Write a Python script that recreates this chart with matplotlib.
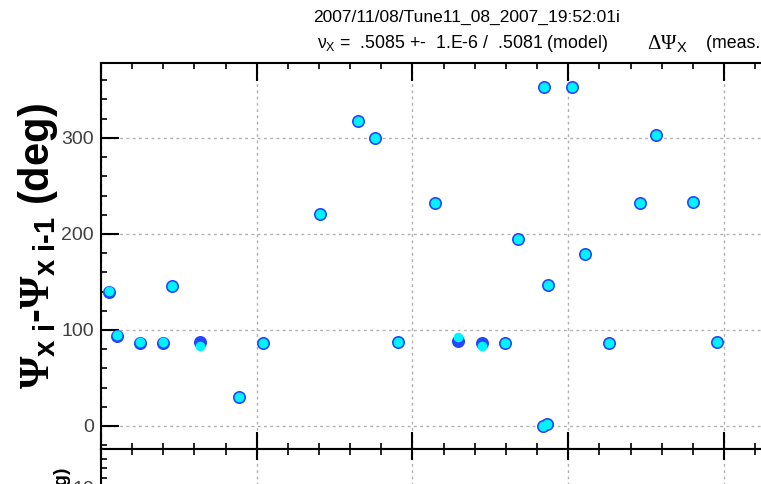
import matplotlib
matplotlib.use("Agg")
import matplotlib.pyplot as plt
from matplotlib.ticker import MultipleLocator

plt.rcParams['font.family'] = ['Liberation Sans', 'DejaVu Sans']
plt.rcParams['mathtext.fontset'] = 'custom'
plt.rcParams['mathtext.rm'] = 'Liberation Sans'
plt.rcParams['mathtext.it'] = 'Liberation Sans'
plt.rcParams['mathtext.bf'] = 'Liberation Sans:bold'
plt.rcParams['mathtext.cal'] = 'Liberation Serif'
plt.rcParams['mathtext.sf'] = 'Liberation Serif:bold'

# BPM position along the ring and phase advance between neighbouring BPMs
s_pos = [5.1, 10.0, 25.0, 40.0, 45.4, 63.6, 88.8, 104.2, 140.7, 165.3, 176.0,
         190.9, 214.2, 229.5, 244.5, 259.5, 267.6, 284.0, 284.5, 286.8, 286.4,
         302.1, 310.9, 326.1, 346.2, 356.3, 380.0, 395.4]
dphi_meas = [139.5, 93.5, 86.2, 86.2, 146.0, 87.5, 30.5, 86.8, 220.5, 317.7,
             300.3, 87.2, 232.0, 88.9, 86.8, 86.8, 194.8, 0.3, 353.4, 147.2,
             2.0, 353.4, 179.5, 86.1, 232.0, 303.0, 233.6, 87.5]
dphi_model = [140.6, 95.0, 87.3, 87.3, 146.0, 83.7, 30.5, 86.8, 220.5, 317.7,
              300.3, 87.2, 232.0, 93.0, 83.3, 86.8, 194.8, 0.3, 353.4, 147.2,
              2.0, 353.4, 179.5, 86.1, 232.0, 303.0, 233.6, 87.5]

title_line1 = "2007/11/08/Tune11_08_2007_19:52:01i"
title_line2 = r"$\nu_{\rm X}$ =  .5085 +-  1.E-6 /  .5081 (model)"
title_right_sym = r"$\mathcal{\Delta\Psi}_{\rm X}$"
title_right_txt = "(meas. - model)"
y_label = r"$\mathsf{\Psi}_{\mathbf{x\ i}}$-$\mathsf{\Psi}_{\mathbf{x\ i}\mathbf{‐1}}$ (deg)"

W, H = 761, 484
fig = plt.figure(figsize=(W / 100, H / 100), dpi=100)

# plot area runs past the right edge of the picture (cropped screenshot)
x0, x1 = 101, 833
top_y, mid_y = 63, 449
ax = fig.add_axes([x0 / W, (H - mid_y) / H, (x1 - x0) / W, (mid_y - top_y) / H])
ax2 = fig.add_axes([x0 / W, (H - mid_y - 300) / H, (x1 - x0) / W, 300 / H], sharex=ax)

grid_kw = dict(color='#b0b0b0', linestyle=(0, (2, 2.5)), linewidth=1.0)

ax.plot(s_pos, dphi_meas, 'o', color='#2446ff', ms=9.4, mew=0, zorder=3, clip_on=False)
ax.plot(s_pos, dphi_model, 'o', color='#00f4ff', ms=7.0, mew=0, zorder=4, clip_on=False)

ax.set_xlim(0, 470)
ax.set_ylim(-24, 378)
ax.xaxis.set_major_locator(MultipleLocator(100))
ax.xaxis.set_minor_locator(MultipleLocator(20))
ax.yaxis.set_major_locator(MultipleLocator(100))
ax.yaxis.set_minor_locator(MultipleLocator(20))
ax.grid(True, which='major', **grid_kw)
ax.set_axisbelow(True)
ax.tick_params(which='both', direction='in', top=True, bottom=True, right=False,
               labelbottom=False, labelsize=14, labelcolor='#404040', width=1.5)
ax.tick_params(which='major', length=12.6, pad=5)
ax.tick_params(which='minor', length=4.6, width=1.2)
ax.spines['right'].set_visible(False)
for sp in ax.spines.values():
    sp.set_linewidth(1.5)

fig.text(38 / W, (H - 246) / H, y_label, rotation=90, ha='center', va='center',
         fontsize=30, fontweight='bold')

# lower panel, only its top edge is visible
ax2.set_ylim(-44.5, 18)
ax2.yaxis.set_major_locator(MultipleLocator(10))
ax2.yaxis.set_minor_locator(MultipleLocator(2))
ax2.grid(True, which='major', axis='x', **grid_kw)
ax2.tick_params(which='both', direction='in', top=True, bottom=False, right=False,
                labeltop=False, labelbottom=False, labelsize=14, labelcolor='#404040',
                width=1.5)
ax2.tick_params(which='major', length=8, pad=5)
ax2.tick_params(which='minor', length=4.6, width=1.2)
ax2.spines['right'].set_visible(False)
ax2.spines['bottom'].set_visible(False)
for sp in ax2.spines.values():
    sp.set_linewidth(1.5)
fig.text(62 / W, (H - 466) / H, "(deg)", rotation=90, ha='center', va='top',
         fontsize=14, fontweight='bold')

fig.text(467 / W, (H - 17) / H, title_line1, ha='center', va='center', fontsize=12.5)
fig.text(317 / W, (H - 44) / H, title_line2, ha='left', va='center', fontsize=12.8)
fig.text(647 / W, (H - 44) / H, title_right_sym, ha='left', va='center', fontsize=15)
fig.text(706 / W, (H - 44) / H, title_right_txt, ha='left', va='center', fontsize=12.8)

fig.savefig("out.png", dpi=100)
